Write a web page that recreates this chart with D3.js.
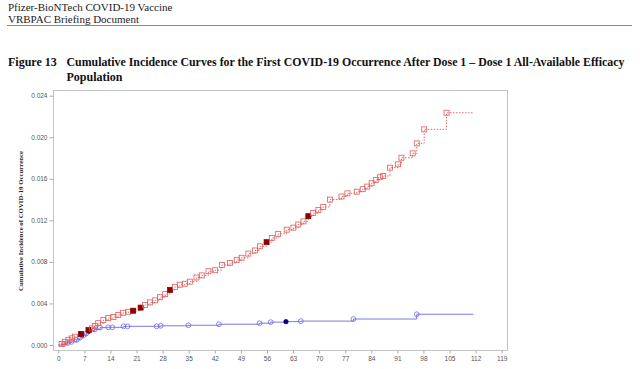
<!DOCTYPE html>
<html>
<head>
<meta charset="utf-8">
<script src="https://cdn.jsdelivr.net/npm/d3@7"></script>
<style>
html,body{margin:0;padding:0;background:#fff;}
svg{display:block;}
</style>
</head>
<body>
<svg id="chart" width="640" height="369"></svg>
<script>
// ---- Data ----
const xTicks = [0,7,14,21,28,35,42,49,56,63,70,77,84,91,98,105,112,119];
const yTicks = [0,0.004,0.008,0.012,0.016,0.020,0.024];

// Placebo (red squares)
const placeboDays = [0.9,1.8,2.7,3.6,4.5,6.1,8.1,9.0,9.8,10.7,12.1,13.4,14.8,16.1,17.4,18.8,20.1,22.1,23.3,24.6,26.0,27.3,28.7,30.0,31.3,32.6,34.0,35.3,37.1,38.5,40.3,42.1,43.9,46.1,47.9,49.2,51.0,52.8,54.1,55.9,57.3,59.0,61.3,63.1,64.4,65.8,67.1,68.4,69.8,71.1,72.9,76.0,77.6,80.1,81.7,82.9,84.1,85.2,86.3,87.2,89.0,91.2,92.1,95.1,96.2,98.2,104.2];
const placeboValues = [0.0001,0.0003,0.0005,0.00064,0.0008,0.00106,0.00144,0.0016,0.00183,0.0021,0.0024,0.0026,0.0027,0.0029,0.0031,0.0032,0.0033,0.0036,0.00385,0.0041,0.0043,0.0046,0.0049,0.0053,0.0056,0.0058,0.0059,0.0061,0.0065,0.0067,0.0071,0.0072,0.0077,0.0079,0.0082,0.0084,0.0088,0.0091,0.0095,0.0099,0.0103,0.0107,0.0111,0.0113,0.0116,0.0119,0.0124,0.0127,0.0130,0.0133,0.0140,0.0143,0.0146,0.01476,0.0150,0.01525,0.01557,0.01589,0.01615,0.01627,0.01707,0.0174,0.01803,0.01845,0.01941,0.02076,0.02236];
const placeboFilledDays = [6.1,8.1,20.1,22.1,30.0,55.9,67.1];
const placeboEnd = 111.4;

// Vaccine (blue circles)
const vaccineDays = [1.5,2.5,3.5,4.9,5.8,6.7,7.5,8.3,9.8,11.2,13.4,14.5,17.5,18.6,26.4,27.5,34.9,43.1,54.0,57.0,61.1,65.1,79.2,96.2];
const vaccineValues = [0.0001,0.0002,0.0003,0.0005,0.0007,0.0009,0.0011,0.00135,0.0015,0.00167,0.0017,0.0017,0.0018,0.0018,0.0018,0.00185,0.0019,0.0020,0.0021,0.0022,0.00225,0.0023,0.0025,0.00296];
const vaccineFilledDays = [8.3,61.1];
const vaccineEnd = 111.4;

// ---- Drawing ----
const svg = d3.select("#chart");
const serif = "'Liberation Serif','Times New Roman',serif";
const sans = "'Liberation Sans',Arial,sans-serif";

// header
svg.append("text").attr("x",8).attr("y",11).attr("font-family",serif).attr("font-size",11).attr("fill","#222").text("Pfizer-BioNTech COVID-19 Vaccine");
svg.append("text").attr("x",8).attr("y",22.5).attr("font-family",serif).attr("font-size",11).attr("fill","#222").text("VRBPAC Briefing Document");
svg.append("line").attr("x1",7).attr("x2",632).attr("y1",25.5).attr("y2",25.5).attr("stroke","#888").attr("stroke-width",1);

// title
svg.append("text").attr("x",8).attr("y",66).attr("font-family",serif).attr("font-size",12).attr("font-weight","bold").attr("fill","#111").text("Figure 13");
svg.append("text").attr("x",66.5).attr("y",66).attr("font-family",serif).attr("font-size",12).attr("font-weight","bold").attr("fill","#111")
  .attr("textLength",558).attr("lengthAdjust","spacingAndGlyphs")
  .text("Cumulative Incidence Curves for the First COVID-19 Occurrence After Dose 1 \u2013 Dose 1 All-Available Efficacy");
svg.append("text").attr("x",66.5).attr("y",81).attr("font-family",serif).attr("font-size",12).attr("font-weight","bold").attr("fill","#111").text("Population");

// scales
const x = d3.scaleLinear().domain([0,119]).range([58.3,501.7]);
const y = d3.scaleLinear().domain([0,0.024]).range([345,95.7]);
const frame = {left:53.5, right:507.5, top:90.5, bottom:350.5};

// frame
svg.append("rect").attr("x",frame.left).attr("y",frame.top)
  .attr("width",frame.right-frame.left).attr("height",frame.bottom-frame.top)
  .attr("fill","none").attr("stroke","#c4c4c4").attr("stroke-width",1);

// y axis
const yAxis = d3.axisLeft(y).tickValues(yTicks).tickSize(4).tickPadding(2).tickFormat(d3.format(".3f"));
const gy = svg.append("g").attr("transform",`translate(${frame.left},0)`).call(yAxis);
gy.select(".domain").remove();
gy.selectAll("line").attr("stroke","#aaa");
gy.selectAll("text").attr("font-family",sans).attr("font-size",6.5).attr("fill","#555");

// x axis
const xAxis = d3.axisBottom(x).tickValues(xTicks).tickSize(3).tickPadding(3);
const gx = svg.append("g").attr("transform",`translate(0,${frame.bottom})`).call(xAxis);
gx.select(".domain").remove();
gx.selectAll("line").attr("stroke","#aaa");
gx.selectAll("text").attr("font-family",sans).attr("font-size",6.5).attr("fill","#555");

// y title
svg.append("text").attr("transform","translate(23,221) rotate(-90)").attr("text-anchor","middle")
  .attr("font-family",serif).attr("font-size",6.8).attr("font-weight","bold").attr("fill","#222")
  .text("Cumulative Incidence of COVID-19 Occurrence");

// series
function build(days, vals, end){
  const pts = [{d:0,v:0}];
  days.forEach((d,i)=>pts.push({d:d,v:vals[i]}));
  pts.push({d:end,v:vals[vals.length-1]});
  return pts;
}
const line = d3.line().x(p=>x(p.d)).y(p=>y(p.v)).curve(d3.curveStepAfter);

const red = "#e05a5a", blue = "#6a6ae0";
const pPts = build(placeboDays, placeboValues, placeboEnd);
const vPts = build(vaccineDays, vaccineValues, vaccineEnd);

svg.append("path").attr("d",line(vPts)).attr("fill","none").attr("stroke",blue).attr("stroke-width",0.9);
svg.append("path").attr("d",line(pPts)).attr("fill","none").attr("stroke",red).attr("stroke-width",0.9).attr("stroke-dasharray","1.5,1.5");

// vaccine markers
const vM = vaccineDays.map((d,i)=>({d:d,v:vaccineValues[i],f:vaccineFilledDays.includes(d)}));
svg.append("g").selectAll("circle").data(vM).join("circle")
  .attr("cx",p=>x(p.d)).attr("cy",p=>y(p.v)).attr("r",p=>p.f?2.2:2.4)
  .attr("fill",p=>p.f?"#000080":"none").attr("stroke",p=>p.f?"#000080":blue).attr("stroke-width",0.8);

// placebo markers
const pM = placeboDays.map((d,i)=>({d:d,v:placeboValues[i],f:placeboFilledDays.includes(d)}));
svg.append("g").selectAll("rect").data(pM).join("rect")
  .attr("x",p=>x(p.d)-2.5).attr("y",p=>y(p.v)-2.5).attr("width",5).attr("height",5)
  .attr("fill",p=>p.f?"#8b0000":"none").attr("stroke",p=>p.f?"#8b0000":red).attr("stroke-width",0.8);
</script>
</body>
</html>
